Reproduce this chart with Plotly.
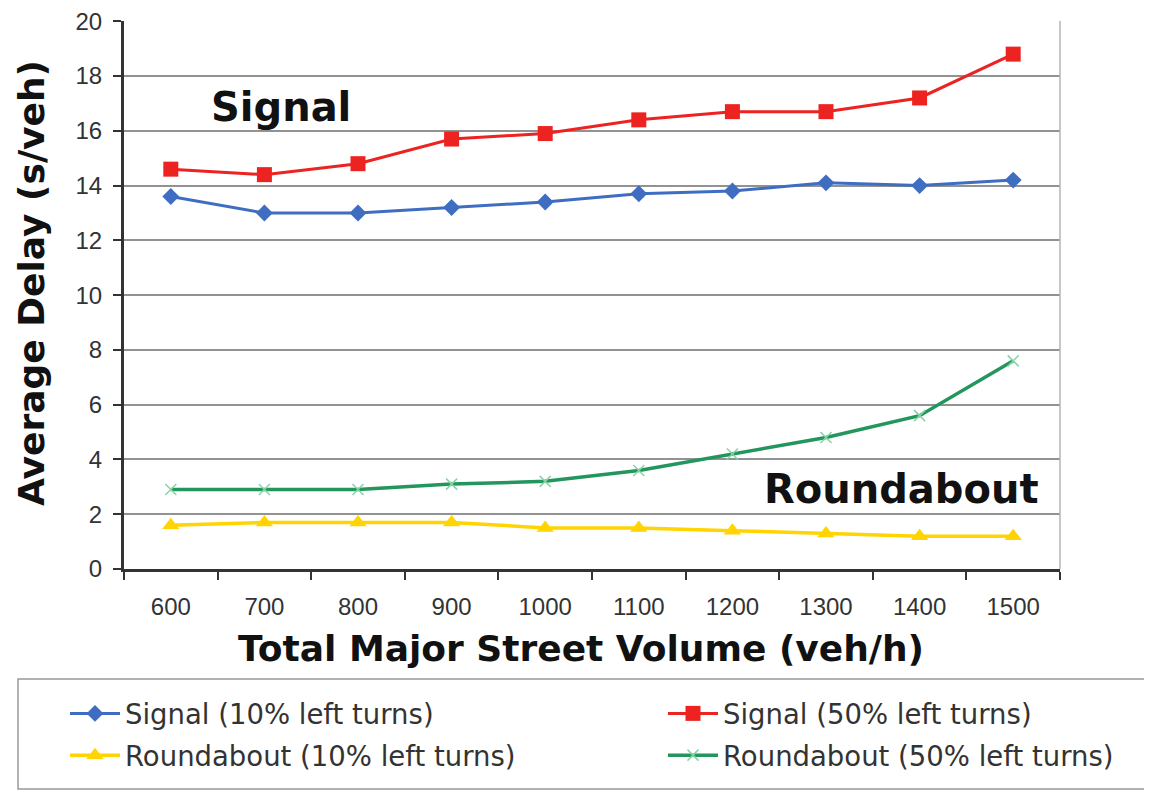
import plotly.graph_objects as go

volumes = ["600", "700", "800", "900", "1000", "1100", "1200", "1300", "1400", "1500"]
signal_10 = [13.6, 13.0, 13.0, 13.2, 13.4, 13.7, 13.8, 14.1, 14.0, 14.2]
signal_50 = [14.6, 14.4, 14.8, 15.7, 15.9, 16.4, 16.7, 16.7, 17.2, 18.8]
round_10 = [1.6, 1.7, 1.7, 1.7, 1.5, 1.5, 1.4, 1.3, 1.2, 1.2]
round_50 = [2.9, 2.9, 2.9, 3.1, 3.2, 3.6, 4.2, 4.8, 5.6, 7.6]
series_names = ["Signal (10% left turns)", "Signal (50% left turns)",
                "Roundabout (10% left turns)", "Roundabout (50% left turns)"]
y_ticks = [0, 2, 4, 6, 8, 10, 12, 14, 16, 18, 20]

FONT = "Liberation Sans, Arial, sans-serif"
WIDE = "DejaVu Sans, Liberation Sans, sans-serif"
W, H = 1152, 790
OFF = 8  # page body margin: figure pixel = screen pixel - OFF
# plot area in screen pixels
PX0, PX1, PY0, PY1 = 124, 1060, 21, 569
L, T = PX0 - OFF, PY0 - OFF
R, B = W - (PX1 - OFF), H - (PY1 - OFF)
PW, PH = PX1 - PX0, PY1 - PY0


def px_x(sx):
    return (sx - PX0) / PW


def px_y(sy):
    return (PY1 - sy) / PH


fig = go.Figure()
styles = [
    (signal_10, "#3E6DC2", dict(symbol="diamond", size=13), "legend", 3),
    (signal_50, "#EC2320", dict(symbol="square", size=15), "legend2", 3),
    (round_10, "#FFD400", dict(symbol="triangle-up", size=15), "legend", 3.5),
    (round_50, "#22965C", dict(symbol="x-thin", size=11, line=dict(width=1.5, color="#86d4a6")), "legend2", 3.5),
]
for (vals, col, mk, lg, lw), name in zip(styles, series_names):
    fig.add_trace(go.Scatter(
        x=volumes, y=vals, name=name, mode="lines+markers",
        line=dict(color=col, width=lw),
        marker=dict(color=col, **mk),
        legend=lg, legendgroup=name,
    ))

legend_common = dict(
    orientation="v", xanchor="left", yanchor="top",
    font=dict(size=27.5, color="#333", family=WIDE),
    bgcolor="rgba(0,0,0,0)", borderwidth=0,
    itemwidth=50, tracegroupgap=3,
)
fig.update_layout(
    width=W, height=H,
    margin=dict(l=L, r=R, t=T, b=B, autoexpand=False),
    paper_bgcolor="white", plot_bgcolor="white",
    font=dict(family=FONT, color="#333"),
    showlegend=True,
    legend=dict(x=px_x(65), y=px_y(689), **legend_common),
    legend2=dict(x=px_x(663), y=px_y(689), **legend_common),
    xaxis=dict(
        type="category", range=[-0.5, 9.5],
        showgrid=False, showline=True, linecolor="#333", linewidth=3,
        ticks="outside", tickson="boundaries", ticklen=8, tickwidth=2, tickcolor="#333",
        tickfont=dict(size=24, color="#333", family=FONT),
        ticklabelstandoff=14,
        fixedrange=True,
    ),
    yaxis=dict(
        range=[0, 20.01], tickvals=y_ticks,
        showgrid=True, gridcolor="#929292", gridwidth=2,
        showline=True, linecolor="#333", linewidth=3,
        ticks="outside", ticklen=8, tickwidth=2, tickcolor="#333",
        tickfont=dict(size=24, color="#333", family=FONT),
        ticklabelstandoff=6, zeroline=False,
        ticklabeloverflow="allow",
    ),
)

# right border of the plot area
fig.add_shape(type="line", xref="paper", yref="paper", x0=1, x1=1, y0=0, y1=1,
              line=dict(color="#b5b5b5", width=1.5))
# legend frame
fig.add_shape(type="rect", xref="paper", yref="paper",
              x0=px_x(18), x1=px_x(1148),
              y0=px_y(789), y1=px_y(679),
              line=dict(color="#999", width=1.5), fillcolor="rgba(0,0,0,0)")

# axis titles
fig.add_annotation(text="<b>Average Delay (s/veh)</b>", xref="paper", yref="paper",
                   x=px_x(31), y=px_y(283), textangle=-90,
                   showarrow=False, font=dict(size=36, color="#111", family=WIDE),
                   xanchor="center", yanchor="middle")
fig.add_annotation(text="<b>Total Major Street Volume (veh/h)</b>", xref="paper", yref="paper",
                   x=px_x(581), y=px_y(648),
                   showarrow=False, font=dict(size=36, color="#111", family=WIDE),
                   xanchor="center", yanchor="middle")
# in-plot labels
fig.add_annotation(text="<b>Signal</b>", xref="paper", yref="paper",
                   x=px_x(281), y=px_y(107),
                   showarrow=False, font=dict(size=40, color="#111", family=WIDE),
                   xanchor="center", yanchor="middle")
fig.add_annotation(text="<b>Roundabout</b>", xref="paper", yref="paper",
                   x=px_x(1041), y=px_y(489),
                   showarrow=False, font=dict(size=40, color="#111", family=WIDE),
                   xanchor="right", yanchor="middle")

fig.write_html("out.html")
